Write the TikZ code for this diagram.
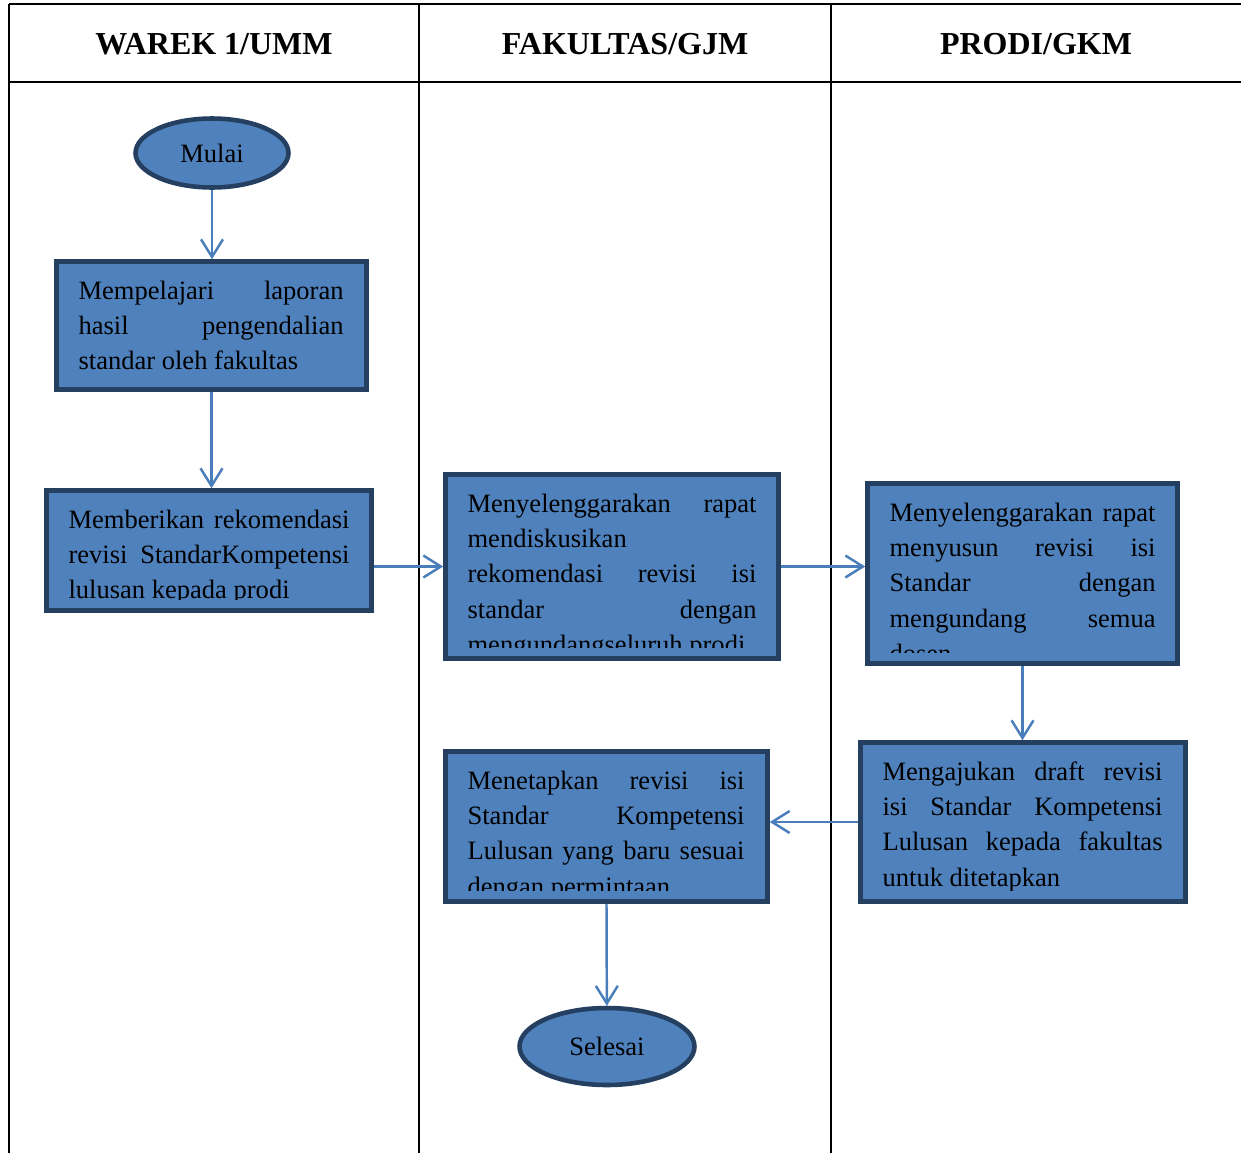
\documentclass[tikz,border=0pt]{standalone}
\usepackage{fontspec}
\setmainfont{Liberation Serif}
\usetikzlibrary{positioning, calc, arrows.meta, shapes.geometric}
\definecolor{boxFill}{RGB}{79, 129, 189}
\definecolor{boxLine}{RGB}{36, 63, 96}
\definecolor{flowBlue}{RGB}{74, 126, 187}
\hyphenpenalty=10000
\exhyphenpenalty=10000
\tolerance=10000

\begin{document}
\begin{tikzpicture}[x=0.02cm, y=-0.02cm,
    lane/.style={black, line width=1.2pt},
    hdr/.style={font=\fontsize{18.2}{21}\selectfont\bfseries},
    procbox/.style={rectangle, draw=boxLine, fill=boxFill, line width=2.6pt, inner sep=0pt},
    termbox/.style={ellipse, draw=boxLine, fill=boxFill, line width=2.6pt, inner sep=0pt,
      font=\fontsize{15.1}{20.1}\selectfont},
    boxtext/.style={anchor=base west, inner sep=0pt, align=justify,
      font=\fontsize{15.1}{20.1}\selectfont},
    flow/.style={flowBlue, line width=1.4pt, -{Straight Barb[length=10pt, width=12.5pt]}}]
        \useasboundingbox (0,0) rectangle (1241,1153);

        % lanes
        \draw[lane] (9,4) -- (1241,4);
        \draw[lane] (9,82) -- (1241,82);
        \draw[lane] (9,4) -- (9,1153);
        \draw[lane] (419,4) -- (419,1153);
        \draw[lane] (831,4) -- (831,1153);
        \node[hdr] (h1) at (214,44) {WAREK 1/UMM};
        \node[hdr] (h2) at (625,44) {FAKULTAS/GJM};
        \node[hdr] (h3) at (1036,44) {PRODI/GKM};

        % WAREK 1/UMM
        \node[termbox, minimum width=3.06cm, minimum height=1.38cm] (mulai) at (212,153) {Mulai};
        \node[procbox, minimum width=6.2cm, minimum height=2.56cm] (b1) at (211.5,325.5) {};
        \node[procbox, minimum width=6.5cm, minimum height=2.4cm] (b2) at (209,550.5) {};

        % FAKULTAS/GJM
        \node[procbox, minimum width=6.66cm, minimum height=3.68cm] (b3) at (612,566.5) {};
        \node[procbox, minimum width=6.44cm, minimum height=3.0cm] (b6) at (606.5,826.5) {};
        \node[termbox, minimum width=3.5cm, minimum height=1.54cm] (selesai) at (607,1046.5) {Selesai};

        % PRODI/GKM
        \node[procbox, minimum width=6.2cm, minimum height=3.6cm] (b4) at (1022.5,573.5) {};
        \node[procbox, minimum width=6.5cm, minimum height=3.18cm] (b5) at (1023,822) {};

        % box texts
        \begin{scope}
          \clip (b1.north west) rectangle ($(b1.south east)+(0,-13)$);
          \node[boxtext, text width=5.30cm] (t1) at ($(b1.north west)+(24,40)$)
            {Mempelajari laporan\linebreak hasil pengendalian\linebreak standar oleh fakultas};
        \end{scope}
        \begin{scope}
          \clip (b2.north west) rectangle ($(b2.south east)+(0,-13)$);
          \node[boxtext, text width=5.62cm] (t2) at ($(b2.north west)+(24,40)$)
            {Memberikan rekomendasi\linebreak revisi StandarKompetensi\linebreak lulusan kepada prodi};
        \end{scope}
        \begin{scope}
          \clip (b3.north west) rectangle ($(b3.south east)+(0,-13)$);
          \node[boxtext, text width=5.78cm] (t3) at ($(b3.north west)+(24,40)$)
            {Menyelenggarakan rapat\linebreak mendiskusikan\\ rekomendasi revisi isi\linebreak
             standar dengan\linebreak mengundangseluruh prodi};
        \end{scope}
        \begin{scope}
          \clip (b4.north west) rectangle ($(b4.south east)+(0,-13)$);
          \node[boxtext, text width=5.32cm] (t4) at ($(b4.north west)+(24,40)$)
            {Menyelenggarakan rapat\linebreak menyusun revisi isi\linebreak Standar dengan\linebreak
             mengundang semua\linebreak dosen};
        \end{scope}
        \begin{scope}
          \clip (b5.north west) rectangle ($(b5.south east)+(0,-13)$);
          \node[boxtext, text width=5.60cm] (t5) at ($(b5.north west)+(24,40)$)
            {Mengajukan draft revisi\linebreak isi Standar Kompetensi\linebreak
             Lulusan kepada fakultas\linebreak untuk ditetapkan};
        \end{scope}
        \begin{scope}
          \clip (b6.north west) rectangle ($(b6.south east)+(0,-13)$);
          \node[boxtext, text width=5.54cm] (t6) at ($(b6.north west)+(24,40)$)
            {Menetapkan revisi isi\linebreak Standar Kompetensi\linebreak
             Lulusan yang baru sesuai\linebreak dengan permintaan};
        \end{scope}

        % flow
        \draw[flow] (mulai) -- (mulai |- b1.north);
        \draw[flow] (b1.south) -- (b1.south |- b2.north);
        \draw[flow] (b2.east |- b3.west) -- (b3.west);
        \draw[flow] (b3.east) -- (b3.east -| b4.west);
        \draw[flow] (b4.south) -- (b4.south |- b5.north);
        \draw[flow] (b5.west) -- (b5.west -| b6.east);
        \draw[flow] (b6.south) -- (selesai);
      \end{tikzpicture}
\end{document}
